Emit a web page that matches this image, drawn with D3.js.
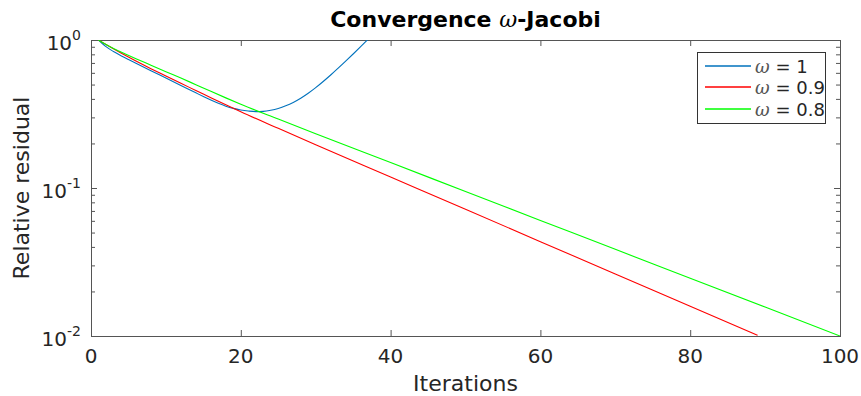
<!DOCTYPE html>
<html>
<head>
<meta charset="utf-8">
<script src="https://cdn.jsdelivr.net/npm/d3@7"></script>
<style>
  body { margin: 0; background: #fff; }
  svg { display: block; font-family: "DejaVu Sans", sans-serif; }
</style>
</head>
<body>
<svg id="chart" width="861" height="396"></svg>
<script>
// residual histories (iteration, relative residual)
var itBlue = [1, 2, 3, 4, 5, 6, 8, 10, 12, 14, 15, 16, 17, 18, 19, 20, 21, 22,
  23, 24, 25, 26, 27, 28, 29, 30, 31, 32, 33, 34, 35, 36, 37];
var resBlue = [1, 0.9016, 0.8356, 0.7834, 0.7379, 0.6966, 0.6209, 0.5534, 0.4932, 0.4395,
  0.4150, 0.3926, 0.3733, 0.3573, 0.3451, 0.3365, 0.3311, 0.3281,
  0.3293, 0.3350, 0.3446, 0.3590, 0.3784, 0.4041, 0.4365, 0.4764, 0.5242, 0.5801,
  0.6450, 0.7194, 0.8043, 0.9016, 1.0127];

var itRed = [1, 2, 3, 4, 6, 8, 10, 12, 14, 16, 18, 20, 25, 30, 40, 50, 60, 70, 80, 89];
var resRed = [1, 0.9311, 0.8710, 0.8166, 0.7211, 0.6404, 0.5715, 0.5093, 0.4560, 0.4074,
  0.3648, 0.3273, 0.2529, 0.1959, 0.1186, 0.0718, 0.0434, 0.0262, 0.0159, 0.0101];

var itGreen = [1, 2, 3, 4, 6, 8, 10, 12, 14, 16, 18, 20, 25, 30, 40, 50, 60, 70, 80, 90, 100];
var resGreen = [1, 0.9311, 0.8750, 0.8299, 0.7482, 0.6761, 0.6109, 0.5534, 0.4989, 0.4498,
  0.4064, 0.3681, 0.2924, 0.2328, 0.1486, 0.0947, 0.0604, 0.0385, 0.0246, 0.0157, 0.01];

var seriesNames = ["1", "0.9", "0.8"];
var seriesColors = ["#0072BD", "#FF0000", "#00FF00"];

var xTicks = [0, 20, 40, 60, 80, 100];
var yTicks = [1, 0.1, 0.01];
var yTickExp = ["0", "-1", "-2"];

// plot box (window.top is read-only, so no plain "top" here)
var box = { l: 91, r: 840, t: 40, b: 336 };
var axisCol = "#555", textCol = "#262626";

var svg = d3.select("#chart");

var x = d3.scaleLinear().domain([0, 100]).range([box.l, box.r]);
var y = d3.scaleLog().domain([0.01, 1]).range([box.b, box.t]);

// minor ticks for the log axis
var minor = [];
[0.01, 0.1].forEach(function(d) {
  for (var k = 2; k <= 9; k++) minor.push(d * k);
});

svg.append("clipPath").attr("id", "clip")
  .append("rect").attr("x", box.l).attr("y", box.t)
  .attr("width", box.r - box.l).attr("height", box.b - box.t);

// axes (ticks pointing inward, box on all sides)
function styleAxis(g) {
  g.select(".domain").remove();
  g.selectAll("line").attr("stroke", axisCol).attr("stroke-width", 1);
}
svg.append("g").attr("transform", "translate(0," + box.b + ")")
  .call(d3.axisBottom(x).tickValues(xTicks).tickSize(-6).tickFormat(""))
  .call(styleAxis);
svg.append("g").attr("transform", "translate(0," + box.t + ")")
  .call(d3.axisTop(x).tickValues(xTicks).tickSize(-6).tickFormat(""))
  .call(styleAxis);
svg.append("g").attr("transform", "translate(" + box.l + ",0)")
  .call(d3.axisLeft(y).tickValues(yTicks).tickSize(-6).tickFormat(""))
  .call(styleAxis);
svg.append("g").attr("transform", "translate(" + box.l + ",0)")
  .call(d3.axisLeft(y).tickValues(minor).tickSize(-4).tickFormat(""))
  .call(styleAxis);
svg.append("g").attr("transform", "translate(" + box.r + ",0)")
  .call(d3.axisRight(y).tickValues(yTicks).tickSize(-6).tickFormat(""))
  .call(styleAxis);
svg.append("g").attr("transform", "translate(" + box.r + ",0)")
  .call(d3.axisRight(y).tickValues(minor).tickSize(-4).tickFormat(""))
  .call(styleAxis);

svg.append("rect")
  .attr("x", box.l + 0.5).attr("y", box.t + 0.5)
  .attr("width", box.r - box.l).attr("height", box.b - box.t)
  .attr("fill", "none").attr("stroke", axisCol).attr("stroke-width", 1);

// tick labels
svg.selectAll(".xlab").data(xTicks).enter().append("text")
  .attr("x", function(d) { return x(d); })
  .attr("y", 363)
  .attr("text-anchor", "middle")
  .attr("font-size", 20)
  .attr("fill", textCol)
  .text(function(d) { return d; });

var yl = svg.selectAll(".ylab").data(yTicks).enter().append("text")
  .attr("x", box.l - 10)
  .attr("y", function(d) { return y(d) + 10; })
  .attr("text-anchor", "end")
  .attr("font-size", 20)
  .attr("fill", textCol);
yl.append("tspan").text("10");
yl.append("tspan").attr("font-size", 14).attr("dy", -10)
  .text(function(d, i) { return yTickExp[i]; });

// axis labels and title
svg.append("text")
  .attr("x", (box.l + box.r) / 2).attr("y", 391)
  .attr("text-anchor", "middle").attr("font-size", 22).attr("fill", textCol)
  .text("Iterations");

svg.append("text")
  .attr("transform", "translate(29," + (box.t + box.b) / 2 + ") rotate(-90)")
  .attr("text-anchor", "middle").attr("font-size", 22).attr("fill", textCol)
  .text("Relative residual");

var title = svg.append("text")
  .attr("x", (box.l + box.r) / 2).attr("y", 27)
  .attr("text-anchor", "middle").attr("font-size", 22)
  .attr("font-weight", "bold").attr("fill", "#000");
title.append("tspan").text("Convergence ");
title.append("tspan").attr("font-family", "DejaVu Serif").attr("font-style", "italic")
  .attr("font-weight", "normal").text("ω");
title.append("tspan").text("-Jacobi");

// residual curves
var series = [
  { it: itBlue, res: resBlue },
  { it: itRed, res: resRed },
  { it: itGreen, res: resGreen }
];
var line = d3.line()
  .x(function(d) { return x(d[0]); })
  .y(function(d) { return y(d[1]); })
  .curve(d3.curveMonotoneX);

var plot = svg.append("g").attr("clip-path", "url(#clip)");
series.forEach(function(s, i) {
  plot.append("path")
    .datum(d3.zip(s.it, s.res))
    .attr("d", line)
    .attr("fill", "none")
    .attr("stroke", seriesColors[i])
    .attr("stroke-width", 1.1);
});

// legend
var legend = svg.append("g");
legend.append("rect")
  .attr("x", 697.5).attr("y", 52.5).attr("width", 128).attr("height", 71)
  .attr("fill", "#fff").attr("stroke", "#333").attr("stroke-width", 1);
seriesNames.forEach(function(name, i) {
  var cy = Math.round(66 + i * 21.4);
  legend.append("line")
    .attr("x1", 705).attr("x2", 751).attr("y1", cy).attr("y2", cy)
    .attr("stroke", seriesColors[i]).attr("stroke-width", 1.6);
  var t = legend.append("text")
    .attr("x", 755).attr("y", cy + 7)
    .attr("font-size", 18).attr("fill", textCol);
  t.append("tspan").attr("font-family", "DejaVu Serif").attr("font-style", "italic")
    .attr("fill", "#555").text("ω");
  t.append("tspan").text(" = " + name);
});
</script>
</body>
</html>
